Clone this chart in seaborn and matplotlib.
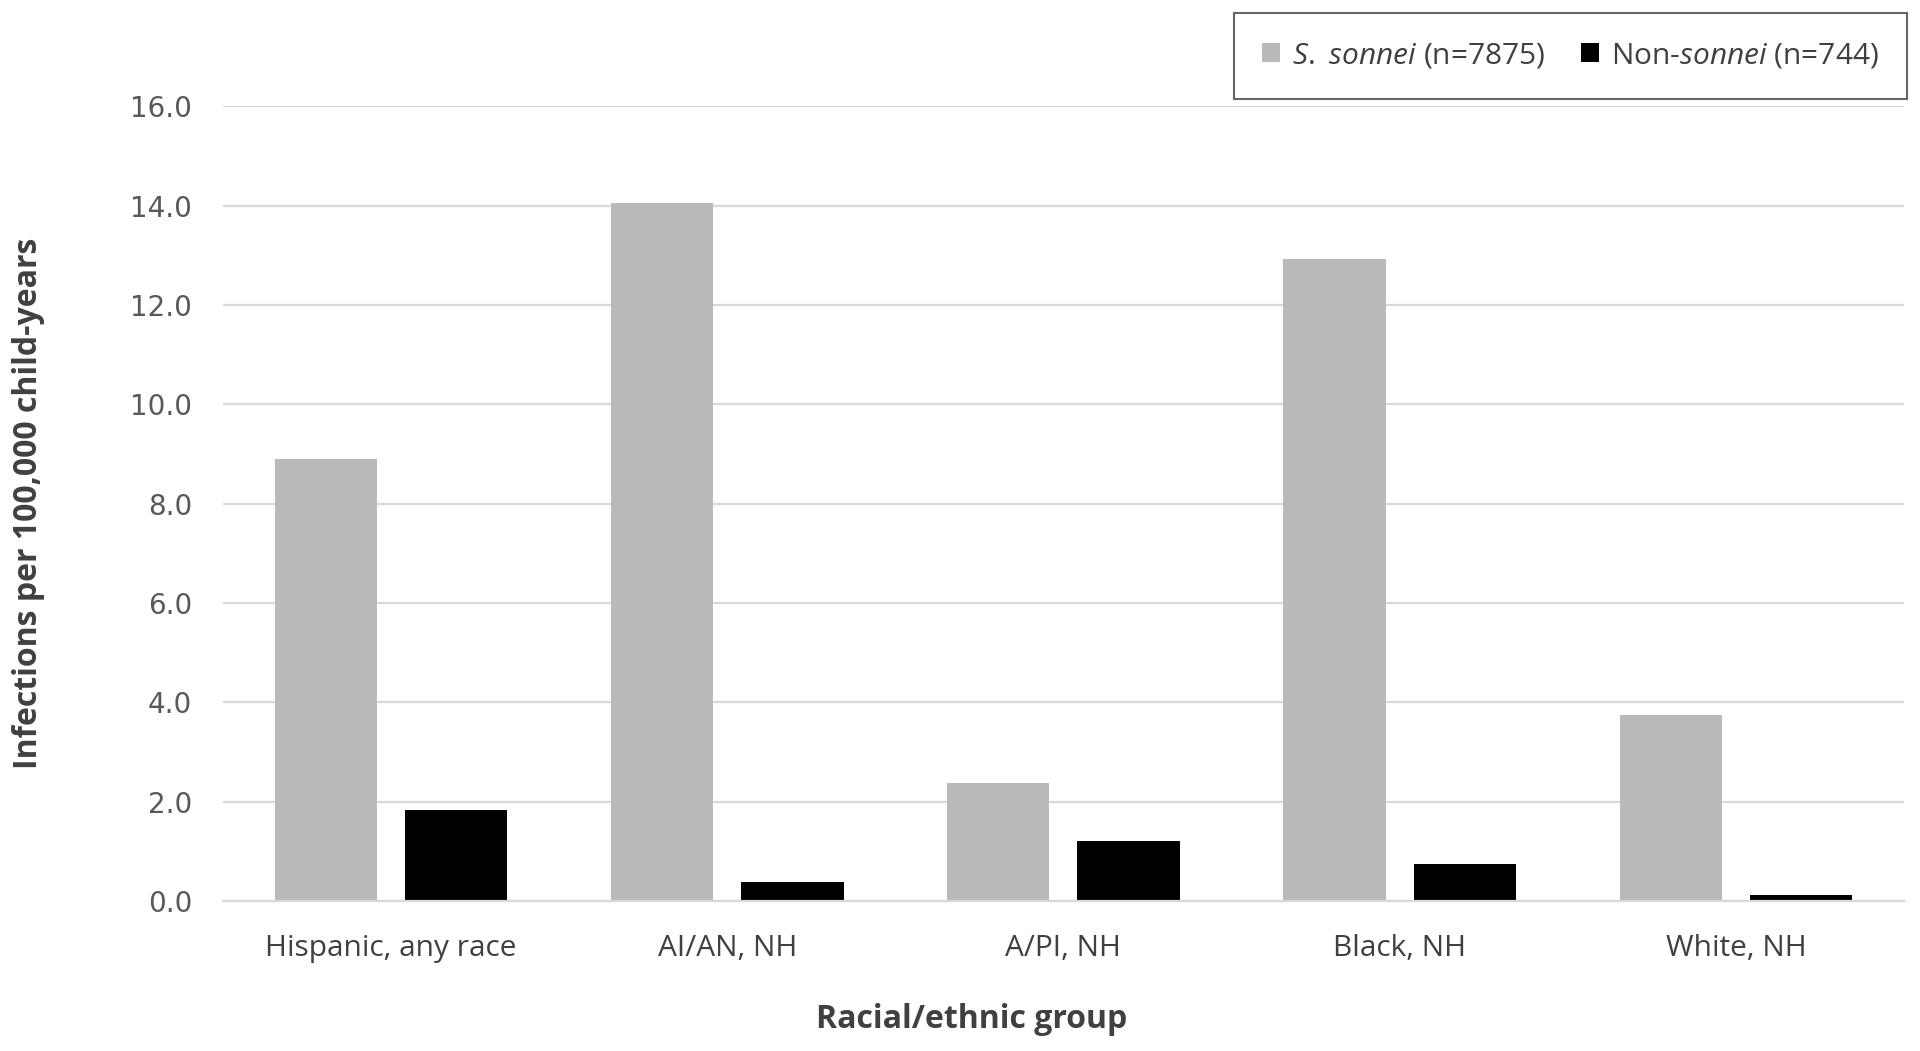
import numpy as np
import pandas as pd
import matplotlib
matplotlib.use("Agg")
import matplotlib.pyplot as plt
import seaborn as sns

# Chart values
groups = ["Hispanic, any race", "AI/AN, NH", "A/PI, NH", "Black, NH", "White, NH"]
sonnei_rates = [8.9, 14.05, 2.37, 12.93, 3.75]
non_sonnei_rates = [1.83, 0.38, 1.2, 0.74, 0.13]
series_labels = [r"$\it{S.\ sonnei}$ (n=7875)", r"Non-$\it{sonnei}$ (n=744)"]
y_ticks = [0, 2, 4, 6, 8, 10, 12, 14, 16]

df = pd.DataFrame({
    "group": groups * 2,
    "rate": sonnei_rates + non_sonnei_rates,
    "series": [series_labels[0]] * len(groups) + [series_labels[1]] * len(groups),
})

sns.set_style("white")
plt.rcParams['font.family'] = ['Open Sans', 'DejaVu Sans']
plt.rcParams['mathtext.fontset'] = 'custom'
plt.rcParams['mathtext.rm'] = 'Open Sans'
plt.rcParams['mathtext.it'] = 'Open Sans:italic'

fig = plt.figure(figsize=(19.2, 10.51), dpi=100)
ax = fig.add_axes([0.1161, 0.1427, 0.9917 - 0.1161, 0.8987 - 0.1427])

sns.barplot(data=df, x="group", y="rate", hue="series", ax=ax,
            palette=["#BABABA", "#000000"], width=0.775, gap=0.215,
            edgecolor="none", legend=True)

# Axes styling
ax.set_ylim(0, 16)
ax.set_xlim(-0.5, len(groups) - 0.5)
ax.set_yticks(y_ticks)
ax.set_yticklabels([f"{v:.1f}" for v in y_ticks], family="DejaVu Sans")
ax.yaxis.grid(True, color="#D9D9D9", linewidth=1.6)
ax.set_axisbelow(True)
for s in ["top", "right", "left"]:
    ax.spines[s].set_visible(False)
ax.spines["bottom"].set_color("#D9D9D9")
ax.spines["bottom"].set_linewidth(1.6)
ax.tick_params(axis="y", length=0, pad=22, labelsize=20, labelcolor="#595959")
ax.tick_params(axis="x", length=0, pad=24, labelsize=21.5, labelcolor="#404040")
ax.set_xlabel("")
ax.set_ylabel("")
fig.text(29 / 1920, 1 - 503 / 1051, "Infections per 100,000 child-years",
         rotation=90, ha="center", va="center", fontsize=23,
         fontweight="bold", color="#404040")
fig.text(0.506, 0.03, "Racial/ethnic group", ha="center", va="center",
         fontsize=23, fontweight="bold", color="#404040")

# Legend in a framed box at top right
handles, labels = ax.get_legend_handles_labels()
ax.get_legend().remove()
leg = fig.legend(handles, labels, loc="upper right", ncol=2,
                 bbox_to_anchor=(1907 / 1920, 1 - 13 / 1051), borderaxespad=0,
                 fontsize=21.5, frameon=True, fancybox=False,
                 handlelength=0.6, handleheight=0.6, handletextpad=0.4,
                 columnspacing=1.2, borderpad=0.95, labelcolor="#404040")
leg.get_frame().set_edgecolor("#404040")
leg.get_frame().set_linewidth(1.5)

plt.savefig("out.png", dpi=100)
